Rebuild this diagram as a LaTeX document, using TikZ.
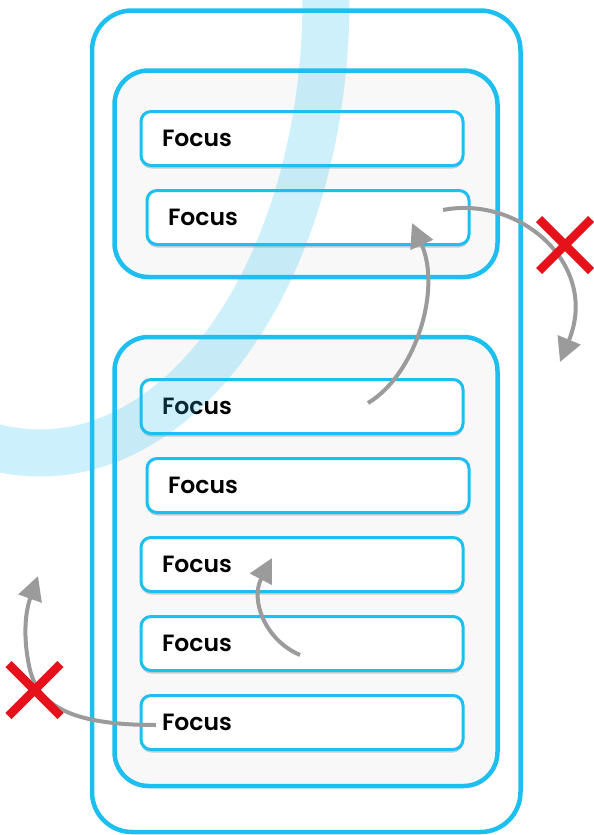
\documentclass[tikz,border=0pt]{standalone}
\usepackage{fontspec}
\newfontfamily\pop{Poppins}[UprightFont={* SemiBold}]
\usetikzlibrary{arrows.meta,shadows}
\definecolor{cy}{HTML}{1CBFF0}
\definecolor{grp}{HTML}{F8F8F8}
\definecolor{arr}{HTML}{9B9B9B}
\definecolor{xred}{HTML}{E5121B}
\tikzset{
  outerbox/.style={draw=cy, line width=4.5pt, rounded corners=40pt, fill=white},
  groupbox/.style={draw=cy, line width=4.5pt, rounded corners=34pt, fill=grp},
  focusbox/.style={draw=cy, line width=3pt, rounded corners=10pt, fill=white,
    minimum height=54pt, inner xsep=21pt, inner ysep=0pt, text width=280pt, align=left,
    anchor=north west, font=\pop\fontsize{23.5}{26}\selectfont, text=black,
    drop shadow={shadow xshift=0pt, shadow yshift=-3pt, opacity=0.18, fill=black}},
  band/.style={line width=47pt, draw=cy, draw opacity=0.22},
  grayarrow/.style={draw=arr, line width=4pt, -{Triangle[length=24pt,width=24pt]}},
  xmark/.style={draw=xred, line width=8.5pt}
}
\begin{document}
\begin{tikzpicture}[x=1pt,y=-1pt]
\useasboundingbox (0,0) rectangle (594,835);
% containers
\draw[outerbox] (92,10.5) rectangle (520.5,832);
\draw[groupbox] (114.5,70.5) rectangle (497.5,277);
\draw[groupbox] (114.5,337) rectangle (497.5,786);
% focus boxes
\node[focusbox] (f1) at (139.5,110) {Focus};
\node[focusbox] (f2) at (145.5,189) {Focus};
\node[focusbox] (f3) at (139.5,378) {Focus};
\node[focusbox] (f4) at (145.5,457) {Focus};
\node[focusbox] (f5) at (139.5,536) {Focus};
\node[focusbox] (f6) at (139.5,615) {Focus};
\node[focusbox] (f7) at (139.5,694) {Focus};
% light blue band
\begin{scope}
\clip (0,0) rectangle (594,835);
\draw[band] plot[domain=-6:100, samples=80, smooth] ({40+286*cos(\x)},{453*sin(\x)});
\end{scope}
% arrow anchor points
\coordinate (a1s) at (368,403);
\coordinate (a1e) at (412,223);
\coordinate (a2s) at (443,210);
\coordinate (a2e) at (560,362);
\coordinate (a3s) at (156,725);
\coordinate (a3m) at (30,670);
\coordinate (a3e) at (38,576);
\coordinate (a4s) at (300,655);
\coordinate (a4e) at (272,558);
\draw[grayarrow] (a1s) .. controls (415,375) and (442,290) .. (a1e);
\draw[grayarrow] (a2s) .. controls (520,195) and (600,265) .. (a2e);
\draw[grayarrow] (a3s) .. controls (80,725) and (40,710) .. (a3m) .. controls (22,635) and (26,610) .. (a3e);
\draw[grayarrow] (a4s) .. controls (265,640) and (250,600) .. (a4e);
% red crosses
\coordinate (x1) at (565,245);
\coordinate (x2) at (34.5,690);
\draw[xmark] ([shift={(-26,-26)}]x1) -- ([shift={(26,26)}]x1);
\draw[xmark] ([shift={(-26,26)}]x1) -- ([shift={(26,-26)}]x1);
\draw[xmark] ([shift={(-26,-26)}]x2) -- ([shift={(26,26)}]x2);
\draw[xmark] ([shift={(-26,26)}]x2) -- ([shift={(26,-26)}]x2);
\end{tikzpicture}
\end{document}
